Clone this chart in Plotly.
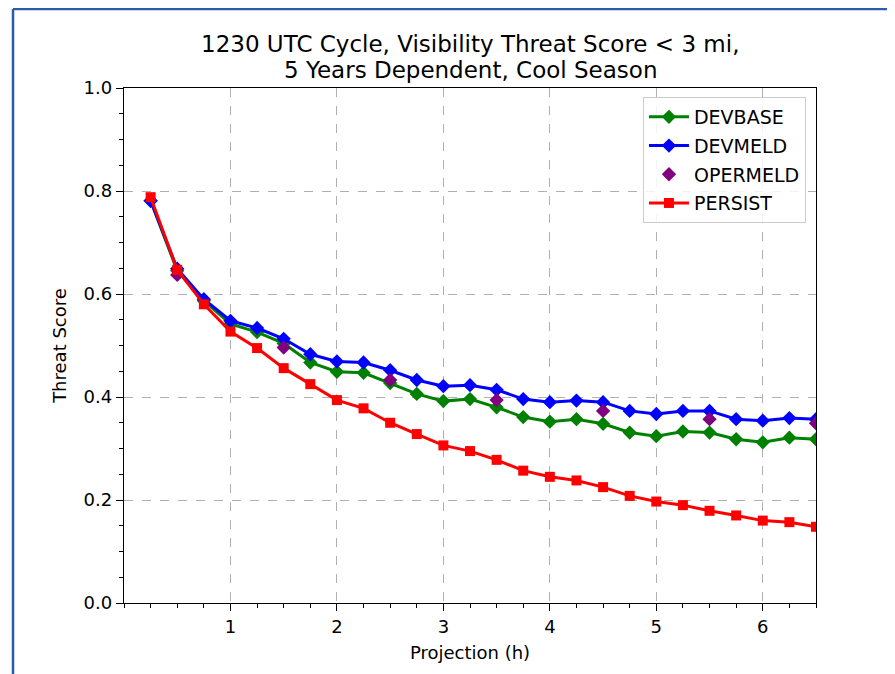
import plotly.graph_objects as go

proj = [0.25, 0.5, 0.75, 1.0, 1.25, 1.5, 1.75, 2.0, 2.25, 2.5, 2.75, 3.0, 3.25, 3.5,
        3.75, 4.0, 4.25, 4.5, 4.75, 5.0, 5.25, 5.5, 5.75, 6.0, 6.25, 6.5]

devbase = [0.781, 0.645, 0.587, 0.542, 0.526, 0.504, 0.467, 0.449, 0.447, 0.427, 0.406,
           0.392, 0.396, 0.380, 0.361, 0.352, 0.357, 0.348, 0.331, 0.324, 0.333, 0.331,
           0.318, 0.312, 0.321, 0.318]
devmeld = [0.781, 0.649, 0.590, 0.548, 0.534, 0.513, 0.483, 0.469, 0.467, 0.452, 0.433,
           0.421, 0.423, 0.414, 0.396, 0.390, 0.393, 0.390, 0.373, 0.367, 0.373, 0.373,
           0.357, 0.354, 0.359, 0.357]
oper_x = [0.5, 1.5, 2.5, 3.5, 4.5, 5.5, 6.5]
opermeld = [0.637, 0.496, 0.433, 0.394, 0.373, 0.357, 0.349]
persist = [0.788, 0.647, 0.580, 0.527, 0.495, 0.456, 0.425, 0.394, 0.378, 0.350, 0.328,
           0.306, 0.295, 0.278, 0.257, 0.245, 0.238, 0.225, 0.208, 0.197, 0.190, 0.179,
           0.170, 0.160, 0.157, 0.148]

x_ticks = [1, 2, 3, 4, 5, 6]
y_ticks = [0.0, 0.2, 0.4, 0.6, 0.8, 1.0]

title_lines = ["1230 UTC Cycle, Visibility Threat Score < 3 mi,",
               "5 Years Dependent, Cool Season"]

FONT = "DejaVu Sans"

fig = go.Figure()
fig.add_trace(go.Scatter(x=proj, y=devbase, name="DEVBASE", mode="lines+markers",
                         legendgroup="a",
                         line=dict(color="green", width=3),
                         marker=dict(symbol="diamond", size=11, color="green")))
fig.add_trace(go.Scatter(x=proj, y=devmeld, name="DEVMELD", mode="lines+markers",
                         legendgroup="b",
                         line=dict(color="blue", width=3),
                         marker=dict(symbol="diamond", size=11, color="blue")))
fig.add_trace(go.Scatter(x=oper_x, y=opermeld, name="OPERMELD", mode="markers",
                         legendgroup="c",
                         marker=dict(symbol="diamond", size=11, color="purple")))
fig.add_trace(go.Scatter(x=proj, y=persist, name="PERSIST", mode="lines+markers",
                         legendgroup="d",
                         line=dict(color="red", width=3),
                         marker=dict(symbol="square", size=10, color="red")))

axis_common = dict(showline=True, linecolor="black", linewidth=1.3, mirror=True,
                   ticks="outside", ticklen=7, tickwidth=1.3, tickcolor="black",
                   showgrid=True, gridcolor="#b0b0b0", griddash="dash", gridwidth=1,
                   zeroline=False, tickfont=dict(size=18, color="black", family=FONT))

fig.update_xaxes(range=[0, 6.5], tickvals=x_ticks,
                 minor=dict(dtick=0.25, ticks="outside", ticklen=4, tickcolor="black", showgrid=False),
                 title=dict(text="Projection (h)", font=dict(size=18, color="black", family=FONT), standoff=10),
                 **axis_common)
fig.update_yaxes(range=[0, 1.0], tickvals=y_ticks, tickformat=".1f",
                 minor=dict(dtick=0.05, ticks="outside", ticklen=4, tickcolor="black", showgrid=False),
                 title=dict(text="Threat Score", font=dict(size=18, color="black", family=FONT), standoff=12),
                 **axis_common)

annotations = [
    dict(text=title_lines[0], xref="paper", yref="paper", x=0.5, y=1.0864,
         xanchor="center", yanchor="middle", showarrow=False,
         font=dict(size=23, family=FONT, color="black")),
    dict(text=title_lines[1], xref="paper", yref="paper", x=0.5, y=1.0359,
         xanchor="center", yanchor="middle", showarrow=False,
         font=dict(size=23, family=FONT, color="black")),
]

fig.update_layout(
    width=887, height=666,
    margin=dict(l=116, r=79, t=80, b=71),
    paper_bgcolor="white", plot_bgcolor="white",
    font=dict(family=FONT, color="black"),
    annotations=annotations,
    showlegend=True,
    legend=dict(x=0.9855, y=0.9825, xanchor="right", yanchor="top",
                bgcolor="rgba(255,255,255,0.85)", bordercolor="#cccccc", borderwidth=1,
                font=dict(size=19, family=FONT, color="black"), itemwidth=40,
                tracegroupgap=1),
    shapes=[
        dict(type="line", xref="paper", yref="paper", x0=-0.1604, x1=1.12, y0=1.1534, y1=1.1534,
             line=dict(color="#2a5caa", width=2.5)),
        dict(type="line", xref="paper", yref="paper", x0=-0.1604, x1=-0.1604, y0=1.1534, y1=-0.15,
             line=dict(color="#2a5caa", width=2.5)),
    ],
)

fig.write_html("out.html")
